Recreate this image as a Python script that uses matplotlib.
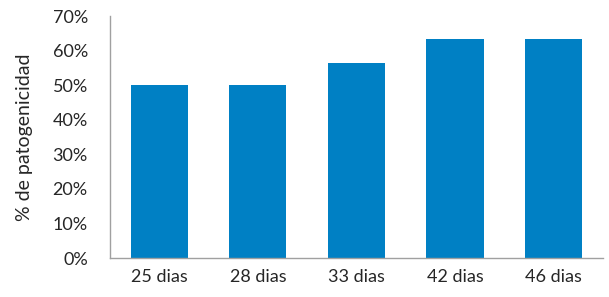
import matplotlib.pyplot as plt
from matplotlib.ticker import FuncFormatter

# data
categories = ["25 dias", "28 dias", "33 dias", "42 dias", "46 dias"]
values = [50, 50, 56.5, 63.3, 63.3]

plt.rcParams['font.family'] = ['Lato', 'DejaVu Sans']

fig = plt.figure(figsize=(6.09, 2.97), dpi=100)
ax = fig.add_axes([0.1806, 0.1313, 0.8094, 0.8147])

ax.bar(range(len(categories)), values, width=0.58, color="#0080C4")

ax.set_xlim(-0.5, len(categories) - 0.5)
ax.set_ylim(0, 70)
ax.set_yticks(range(0, 71, 10))
ax.yaxis.set_major_formatter(FuncFormatter(lambda v, p: "%d%%" % v))
ax.set_xticks(range(len(categories)))
ax.set_xticklabels(categories)

ax.tick_params(axis="both", length=0, labelsize=13, colors="#262626")
ax.tick_params(axis="x", pad=8)
ax.tick_params(axis="y", pad=16)

for side in ["top", "right"]:
    ax.spines[side].set_visible(False)
for side in ["left", "bottom"]:
    ax.spines[side].set_color("#A0A0A0")
    ax.spines[side].set_linewidth(1)

ax.set_ylabel("% de patogenicidad", fontsize=14, color="#262626", labelpad=14)

plt.savefig("out.png", dpi=100)
